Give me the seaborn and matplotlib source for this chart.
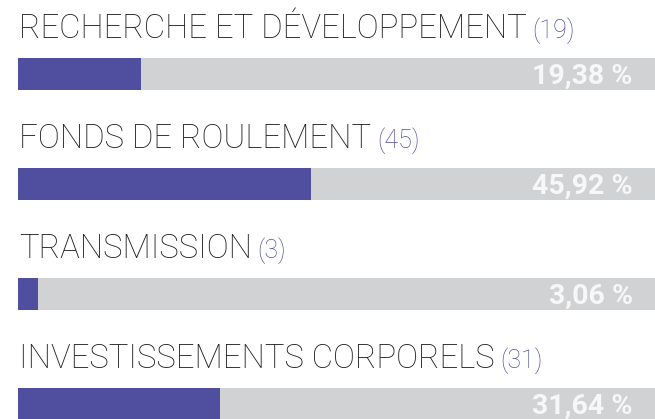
import matplotlib
matplotlib.use('Agg')
import matplotlib.pyplot as plt
import seaborn as sns
import pandas as pd

categories = ['RECHERCHE ET DÉVELOPPEMENT', 'FONDS DE ROULEMENT', 'TRANSMISSION', 'INVESTISSEMENTS CORPORELS']
counts = [19, 45, 3, 31]
percents = [19.38, 45.92, 3.06, 31.64]
totals = [100, 100, 100, 100]

PURPLE = '#4f4e9f'
GRAY = '#d1d2d4'
DARK = '#231f20'

sns.set_theme(style='white')
plt.rcParams['font.family'] = ['Roboto', 'DejaVu Sans']

df = pd.DataFrame({'category': categories, 'count': counts, 'percent': percents, 'total': totals})

fig = plt.figure(figsize=(6.55, 4.19), dpi=100)
ax = fig.add_axes([0, 0, 1, 1])

sns.barplot(data=df, x='total', y='category', orient='h', color=GRAY, width=0.29,
            saturation=1, linewidth=0, ax=ax)
sns.barplot(data=df, x='percent', y='category', orient='h', color=PURPLE, width=0.29,
            saturation=1, linewidth=0, ax=ax)

ax.set_xlim(-2.83, 100)
ax.set_ylim(3.136, -0.673)
ax.axis('off')

titles = []
for i, row in df.iterrows():
    t = ax.text(0.1, i - 0.33, row['category'], fontsize=23.7, fontweight='light',
                color=DARK, va='baseline', ha='left')
    titles.append(t)
    ax.text(96.5, i + 0.02, f"{row['percent']:.2f}".replace('.', ',') + ' %',
            fontsize=20.5, fontweight='bold', color='#f7f7f7', va='center', ha='right')

fig.canvas.draw()
renderer = fig.canvas.get_renderer()
inv = ax.transData.inverted()
for i, (t, c) in enumerate(zip(titles, df['count'])):
    bb = t.get_window_extent(renderer)
    x_end = inv.transform((bb.x1 + 6, 0))[0]
    ax.text(x_end, i - 0.33, f'({c})', fontsize=18, fontweight='light',
            color=PURPLE, va='baseline', ha='left')

fig.savefig('out.png', dpi=100)
